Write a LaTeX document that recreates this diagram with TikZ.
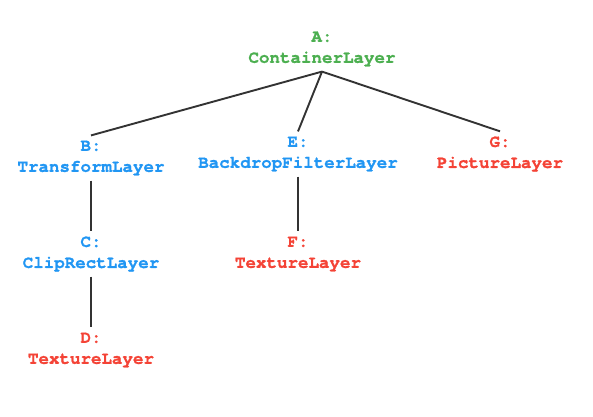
\documentclass[tikz,border=0pt]{standalone}
\usepackage{fontspec}
\setmonofont{texgyrecursor}[
    Extension=.otf,
    UprightFont=*-regular,
    BoldFont=*-bold,
    BoldFeatures={FakeBold=1.2}]
\definecolor{rootgreen}{HTML}{4CAF50}
\definecolor{groupblue}{HTML}{2196F3}
\definecolor{leafred}{HTML}{F44336}
\definecolor{edgegray}{HTML}{333333}
\begin{document}
\begin{tikzpicture}[x=1pt, y=-1pt]
    % Define styles
    \tikzset{
        layer/.style={
            align=center,
            font=\ttfamily\bfseries\fontsize{17.5}{21}\selectfont,
            inner xsep=2pt,
            inner ysep=5pt
        },
        rootlayer/.style={layer, text=rootgreen},
        grouplayer/.style={layer, text=groupblue},
        leaflayer/.style={layer, text=leafred},
        edge/.style={
            draw=edgegray,
            line width=1.9pt
        }
    }
    \useasboundingbox (0,0) rectangle (593,416);

    % Root
    \node[rootlayer] (A) at (322,49) {A:\\ContainerLayer};

    % First level
    \node[grouplayer] (B) at (91,158) {B:\\TransformLayer};
    \node[grouplayer] (E) at (298,154) {E:\\BackdropFilterLayer};
    \node[leaflayer] (G) at (500,154) {G:\\PictureLayer};

    % Second level
    \node[grouplayer] (C) at (91,254) {C:\\ClipRectLayer};
    \node[leaflayer] (F) at (298,254) {F:\\TextureLayer};

    % Third level
    \node[leaflayer] (D) at (91,350) {D:\\TextureLayer};

    % Connections
    \draw[edge] (A.south) -- (B.north);
    \draw[edge] (A.south) -- (E.north);
    \draw[edge] (A.south) -- (G.north);
    \draw[edge] (B.south) -- (C.north);
    \draw[edge] (E.south) -- (F.north);
    \draw[edge] (C.south) -- (D.north);
\end{tikzpicture}
\end{document}
